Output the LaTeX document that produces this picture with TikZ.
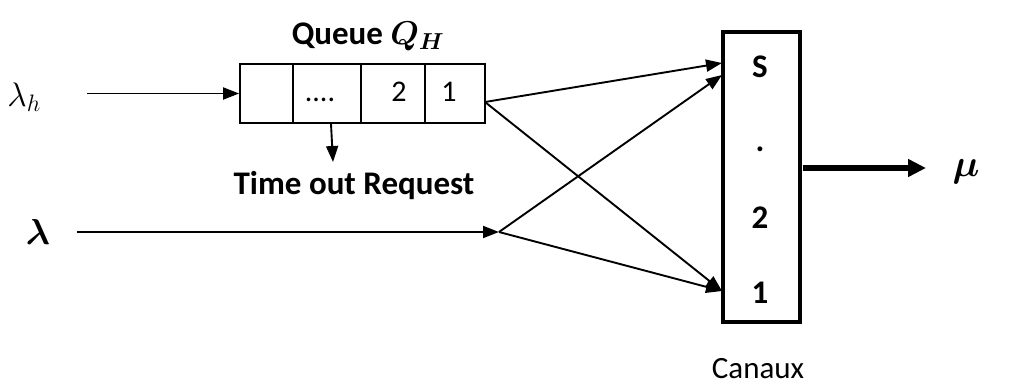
\RequirePackage{fix-cm}
\documentclass[tikz,border=0pt]{standalone}
\usepackage{amsmath,bm}
\usepackage{fontspec}
\setmainfont{Carlito}
\usetikzlibrary{arrows.meta}
\begin{document}
\begin{tikzpicture}[x=1pt,y=-1pt,
  txt/.style={font=\fontsize{33}{36}\selectfont\bfseries, inner sep=0pt},
  cell/.style={draw, line width=1.8pt, minimum height=59pt, inner sep=0pt, text height=16pt, text depth=0pt, font=\fontsize{30}{32}\selectfont},
  conn/.style={line width=1.9pt, -{Triangle[length=16pt,width=12pt]}},
  thick arrow/.style={line width=6pt, -{Triangle[length=18pt,width=17pt]}}]
\useasboundingbox (0,0) rectangle (1033,385);
% queue cells
\node[cell, minimum width=53pt] (q4) at (266.5,93.5) {};
\node[cell, minimum width=68pt] (q3) at (327,93.5) {\hspace*{-14pt}....};
\node[cell, minimum width=64pt] (q2) at (393,93.5) {\hspace*{12pt}2};
\node[cell, minimum width=60pt] (q1) at (455,93.5) {1\hspace*{12pt}};
\node[txt] (qlabel) at (368,36) {Queue $\bm{Q_H}$};
\node[txt] (timeout) at (354,186) {Time out Request};
\coordinate (tostart) at (331,124);
\coordinate (toend) at (333,162);
\draw[conn] (tostart) -- (toend);
% inputs
\node[inner sep=0pt, font=\fontsize{34}{36}\selectfont] (lh) at (24,97) {$\lambda_h$};
\node[inner sep=0pt, font=\fontsize{36}{38}\selectfont] (l) at (38,232) {$\bm{\lambda}$};
\coordinate (lhs) at (87,93.5);
\coordinate (ls) at (77,232);
\coordinate (j) at (499,232);
\draw[conn] (lhs) -- (q4.west);
\draw[conn] (ls) -- (j);
% channels
\node[draw, line width=3.5pt, minimum width=77pt, minimum height=290pt, inner sep=0pt] (ch) at (761.5,177) {};
\node[txt] (cs) at (760,67) {S};
\node[txt] (cdot) at (760,149) {.};
\node[txt] (c2) at (760,218) {2};
\node[txt] (c1) at (760,293) {1};
\node[inner sep=0pt, font=\fontsize{31}{34}\selectfont] (canaux) at (758,369) {Canaux};
\coordinate (qout) at (485,102);
\coordinate (inS1) at (722,63);
\coordinate (inS2) at (722,75);
\coordinate (in1) at (722,291);
\draw[conn] (qout) -- (inS1);
\draw[conn] (qout) -- (in1);
\draw[conn] (j) -- (inS2);
\draw[conn] (j) -- (in1);
% output
\coordinate (outs) at (803,168);
\coordinate (oute) at (926,168);
\draw[thick arrow] (outs) -- (oute);
\node[inner sep=0pt, font=\fontsize{38}{40}\selectfont] (mu) at (966,172) {$\bm{\mu}$};
\end{tikzpicture}
\end{document}
